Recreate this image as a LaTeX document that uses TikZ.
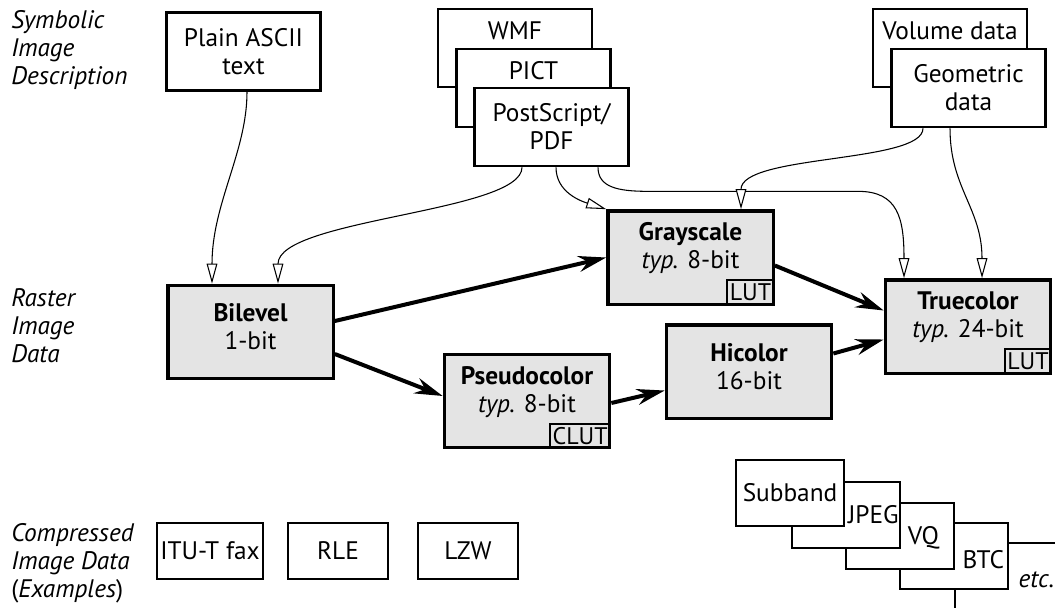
\documentclass[tikz,border=0pt]{standalone}
\usepackage{fontspec}
\setmainfont{PT Sans}
\usetikzlibrary{arrows.meta,calc}

\definecolor{rastergray}{RGB}{228,228,228}

\begin{document}
\begin{tikzpicture}[x=0.75pt, y=-0.75pt,
  every node/.style={font=\fontsize{19}{21}\selectfont},
  src/.style={draw, fill=white, line width=2pt, align=center, inner sep=0pt,
    minimum width=115.5pt, minimum height=58.5pt},
  raster/.style={draw, fill=rastergray, line width=2.5pt, align=center, inner sep=0pt,
    minimum width=124pt, minimum height=70pt, text depth=8pt},
  codec/.style={draw, fill=white, line width=2pt, inner sep=0pt,
    minimum width=75pt, minimum height=42pt},
  chip/.style={draw, fill=white, line width=2pt, inner sep=0pt,
    minimum width=81pt, minimum height=49.5pt},
  tag/.style={draw, line width=1.5pt, inner xsep=2pt, inner ysep=0pt,
    minimum height=18.5pt, anchor=south east, font=\fontsize{18}{20}\selectfont},
  side/.style={align=left, anchor=west, inner sep=0pt,
    font=\fontsize{19}{21}\selectfont\itshape},
  flow/.style={line width=3pt, -{Stealth[length=21pt, width=12pt, inset=7pt]}},
  feed/.style={line width=0.8pt, -{Triangle[length=15pt, width=8pt, fill=white]}}]
\useasboundingbox (0,0) rectangle (1055,607);
\clip (0,0) rectangle (1055,607);

% row labels
\node[side] (symlab) at (11,50) {Symbolic\\Image\\Description};
\node[side] (rastlab) at (11,326) {Raster\\Image\\Data};
\node[side] (complab) at (11,563) {Compressed\\Image Data\\{\upshape(}Examples{\upshape)}};

% symbolic image descriptions
\node[src] (ascii) at (243.5,51.5) {Plain ASCII\\text};
\node[src, label={[anchor=center, yshift=-17.25pt]north:WMF}] (wmf) at (515,48) {};
\node[src, label={[anchor=center, yshift=-17.25pt]north:PICT}] (pict) at (533.5,88) {};
\node[src] (ps) at (551.5,127) {PostScript/\\PDF};
\node[src, label={[anchor=center, yshift=-17.25pt]north:Volume data}] (vol) at (950,48) {};
\node[src] (geo) at (968.5,88) {Geometric\\data};

% raster image data
\node[raster] (bilevel) at (250.5,332) {\textbf{Bilevel}\\1-bit};
\node[raster, text depth=18pt] (gray) at (690.5,257.5) {\textbf{Grayscale}\\\emph{typ.} 8-bit};
\node[raster, text depth=18pt] (pseudo) at (527,401) {\textbf{Pseudocolor}\\\emph{typ.} 8-bit};
\node[raster] (hi) at (749,371.5) {\textbf{Hicolor}\\16-bit};
\node[raster, text depth=18pt] (true) at (968,326.5) {\textbf{Truecolor}\\\emph{typ.} 24-bit};
\node[tag] (graylut) at (gray.south east) {LUT};
\node[tag] (pseudoclut) at (pseudo.south east) {CLUT};
\node[tag] (truelut) at (true.south east) {LUT};

\draw[feed] ($(ascii.south)+(3.5,0)$) .. controls +(0,60) and +(0,-80) .. ($(bilevel.north)+(-38.5,0)$);
\draw[feed] ($(ps.south)+(-29.5,0)$) .. controls +(0,45) and +(0,-65) .. ($(bilevel.north)+(27.5,0)$);
\draw[feed] ($(ps.south)+(4.5,0)$) .. controls +(0,25) and +(-25,-8) .. (gray.north west);
\draw[feed] ($(ps.south)+(46.5,0)$) .. controls +(0,20) and +(-30,0) .. ($(ps.south)+(96.5,24)$)
  -- ($(ps.south)+(306.5,24)$) .. controls +(40,0) and +(0,-60) .. ($(true.north)+(-64,0)$);
\draw[feed] ($(geo.south)+(-45.5,0)$) .. controls +(0,35) and +(0,-55) .. ($(gray.north)+(50.5,0)$);
\draw[feed] ($(geo.south)+(-18.5,0)$) .. controls +(0,60) and +(0,-70) .. ($(true.north)+(14,0)$);

\draw[flow] ($(bilevel.east)+(0,-11)$) -- (gray.west);
\draw[flow] ($(bilevel.east)+(0,22)$) -- ($(pseudo.west)+(0,-5)$);
\draw[flow] ($(pseudo.east)+(0,2)$) -- ($(hi.west)+(0,19)$);
\draw[flow] ($(hi.east)+(0,-18)$) -- ($(true.west)+(0,13)$);
\draw[flow] ($(gray.east)+(0,8)$) -- ($(true.west)+(0,-16)$);

% compressed image data
\node[codec, minimum width=79.5pt] (fax) at (210,551) {ITU-T fax};
\node[codec] (rle) at (338,551) {RLE};
\node[codec] (lzw) at (468,551) {LZW};

\node[chip, label={[anchor=center, xshift=-21pt, yshift=-3pt]east:\emph{etc.}}] (etc) at (1009,576) {};
\node[chip, label={[anchor=center, xshift=-19.5pt, yshift=-3pt]east:BTC}] (btc) at (954,556) {};
\node[chip, label={[anchor=center, xshift=-24pt, yshift=-1.5pt]east:VQ}] (vq) at (900,536) {};
\node[chip, label={[anchor=center, xshift=-21pt]east:JPEG}] (jpeg) at (846,515) {};
\node[chip] (subband) at (790,493) {Subband};
\end{tikzpicture}
\end{document}
